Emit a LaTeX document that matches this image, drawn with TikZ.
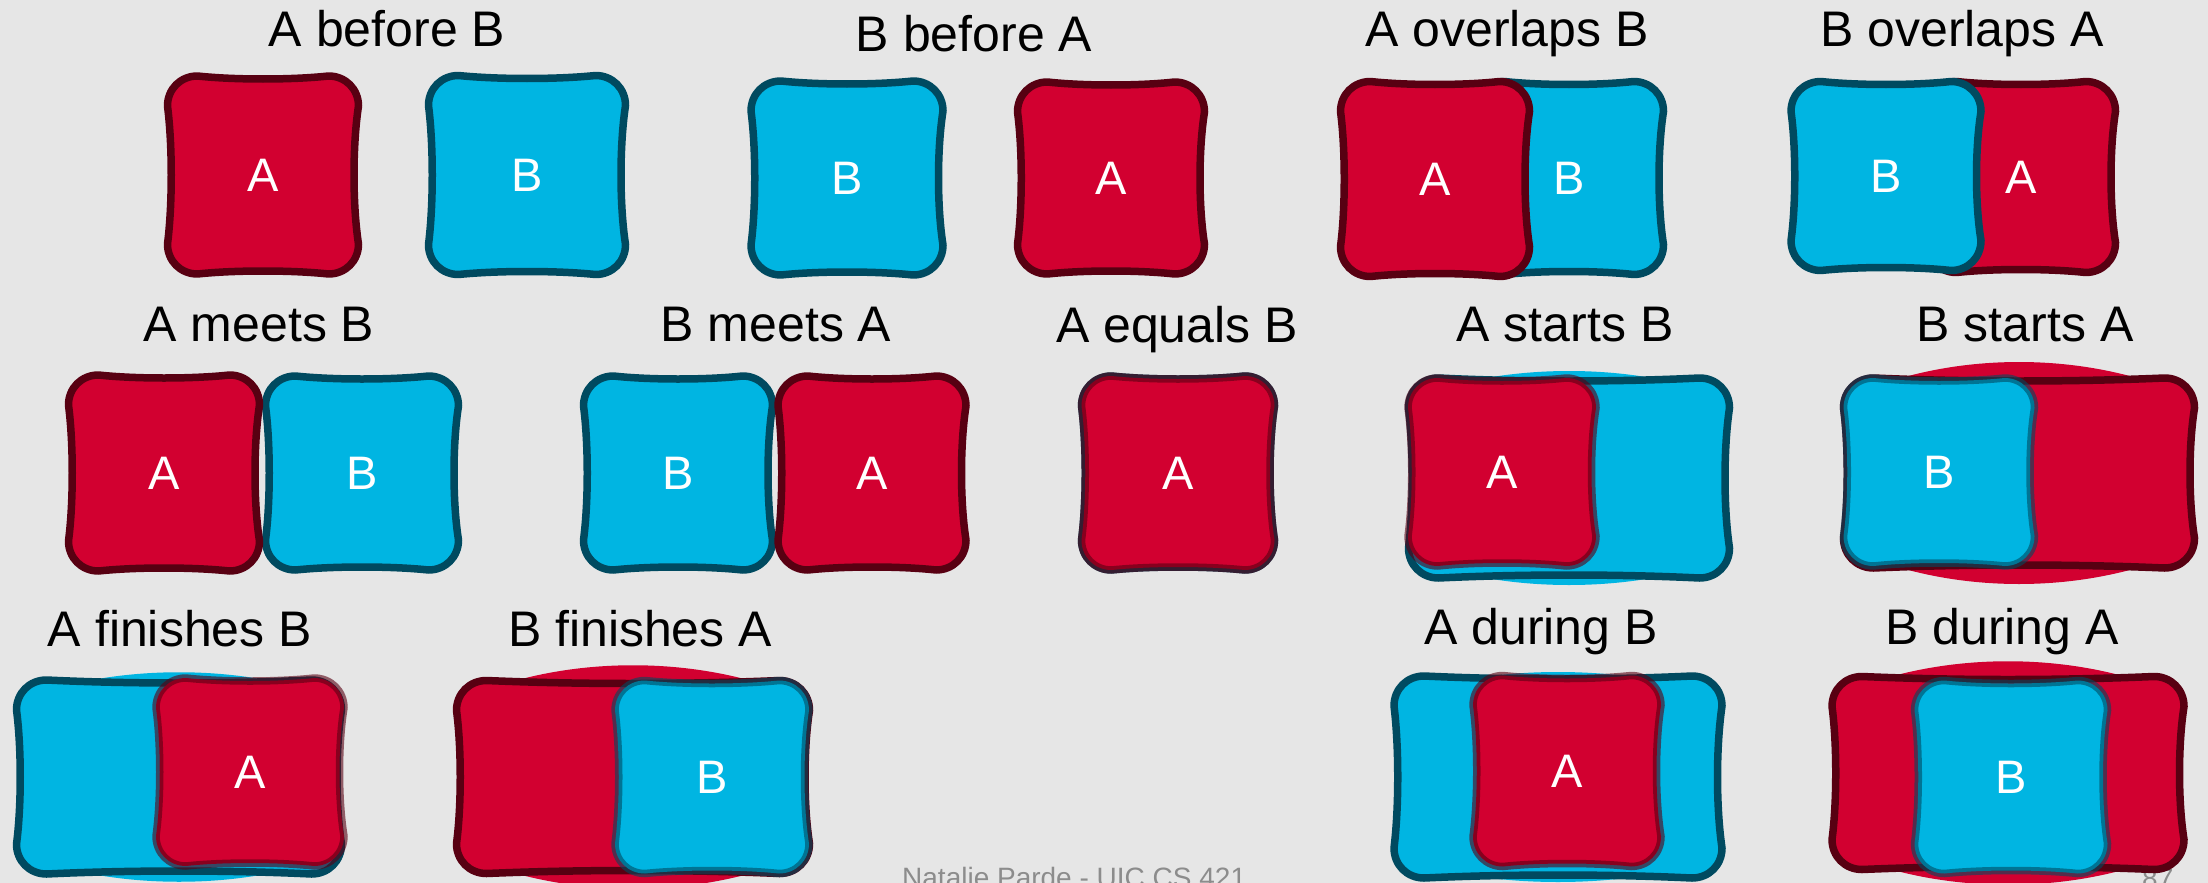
\documentclass[tikz,border=0pt]{standalone}
\usepackage{fontspec}
\setmainfont{Liberation Sans}
\usetikzlibrary{calc}
\definecolor{bgc}{HTML}{E6E6E6}
\definecolor{redf}{HTML}{D20030}
\definecolor{redd}{HTML}{580012}
\definecolor{bluef}{HTML}{00B5E2}
\definecolor{blued}{HTML}{004A60}
\definecolor{footc}{HTML}{8C8C8C}
\pgfdeclarelayer{bg}
\pgfsetlayers{bg,main}
% sketchy rounded box drawn around a named node
\newcommand{\skbox}[2][]{%
  \path[#1] let \p1=(#2.north west), \p2=(#2.south east), \n1={\x2-\x1}, \n2={\y1-\y2} in
   (\x1+30pt,\y1) .. controls (\x1+0.35*\n1,\y1-4pt) and (\x2-0.35*\n1,\y1-4pt) .. (\x2-30pt,\y1)
   .. controls (\x2-13pt,\y1) and (\x2,\y1-13pt) .. (\x2,\y1-30pt)
   .. controls (\x2-6pt,\y1-0.35*\n2) and (\x2-6pt,\y2+0.35*\n2) .. (\x2,\y2+30pt)
   .. controls (\x2,\y2+13pt) and (\x2-13pt,\y2) .. (\x2-30pt,\y2)
   .. controls (\x2-0.35*\n1,\y2+4pt) and (\x1+0.35*\n1,\y2+4pt) .. (\x1+30pt,\y2)
   .. controls (\x1+13pt,\y2) and (\x1,\y2+13pt) .. (\x1,\y2+30pt)
   .. controls (\x1+5pt,\y2+0.35*\n2) and (\x1+5pt,\y1-0.35*\n2) .. (\x1,\y1-30pt)
   .. controls (\x1,\y1-13pt) and (\x1+13pt,\y1) .. (\x1+30pt,\y1) -- cycle;
}
% loose sketch fill bulging above and below a named node
\newcommand{\skbulge}[3][]{%
  \path[#1] let \p1=(#2.north west), \p2=(#2.south east), \n1={\x2-\x1} in
   (\x1+4pt,\y1-20pt) .. controls (\x1+0.3*\n1,\y1+#3) and (\x2-0.3*\n1,\y1+#3) .. (\x2-4pt,\y1-20pt)
   -- (\x2-4pt,\y2+20pt) .. controls (\x2-0.3*\n1,\y2-#3) and (\x1+0.3*\n1,\y2-#3) .. (\x1+4pt,\y2+20pt) -- cycle;
}
\begin{document}
\begin{tikzpicture}[x=1pt,y=-1pt,
  title/.style={anchor=base, font=\fontsize{50}{60}\selectfont, text=black, inner sep=0pt},
  box/.style={inner sep=0pt, outer sep=0pt, text=white, font=\fontsize{47}{50}\selectfont},
  redbox/.style={fill=redf, draw=redd, line width=7.5pt, line join=round},
  bluebox/.style={fill=bluef, draw=blued, line width=7.5pt, line join=round},
  redtop/.style={redbox, draw opacity=0.6},
  bluetop/.style={bluebox, draw opacity=0.6},
  redbulge/.style={fill=redf},
  bluebulge/.style={fill=bluef},
  foot/.style={anchor=base west, font=\fontsize{28}{30}\selectfont, text=footc, inner sep=0pt}]
\useasboundingbox (0,0) rectangle (2208,883);

% titles
\node[title] (t1) at (387,47) {A before B};
\node[title] (t2) at (974,52) {B before A};
\node[title] (t3) at (1507,47) {A overlaps B};
\node[title] (t4) at (1962,47) {B overlaps A};
\node[title] (t5) at (259,341) {A meets B};
\node[title] (t6) at (776,341) {B meets A};
\node[title] (t7) at (1177,342) {A equals B};
\node[title] (t8) at (1565,341) {A starts B};
\node[title] (t9) at (2025,341) {B starts A};
\node[title] (t10) at (180,646) {A finishes B};
\node[title] (t11) at (640,646) {B finishes A};
\node[title] (t12) at (1541,644) {A during B};
\node[title] (t13) at (2002,644) {B during A};

% box placeholders (with labels)
\node[box, minimum width=191pt, minimum height=198pt] (a1) at (263,175) {A};
\node[box, minimum width=197pt, minimum height=199pt] (b1) at (527,175) {B};
\node[box, minimum width=192pt, minimum height=194pt] (b2) at (847,178) {B};
\node[box, minimum width=187pt, minimum height=192pt] (a2) at (1111,178) {A};
\node[box, minimum width=189pt, minimum height=195pt] (a3) at (1435,179) {A};
\node[box, minimum width=189pt, minimum height=193pt] (b3) at (1569,178) {B};
\node[box, minimum width=190pt, minimum height=189pt] (b4) at (1886,176) {B};
\node[box, minimum width=189pt, minimum height=191pt] (a4) at (2021,177) {A};

\node[box, minimum width=191pt, minimum height=196pt] (a5) at (164,473) {A};
\node[box, minimum width=193pt, minimum height=194pt] (b5) at (362,473) {B};
\node[box, minimum width=189pt, minimum height=194pt] (b6) at (678,473) {B};
\node[box, minimum width=188pt, minimum height=194pt] (a6) at (872,473) {A};
\node[box, minimum width=193pt, minimum height=194pt] (b7) at (1178,473) {};
\node[box, minimum width=193pt, minimum height=194pt] (a7) at (1178,473) {A};
\node[box, minimum width=321pt, minimum height=200pt] (b8) at (1569,478) {};
\node[box, minimum width=188pt, minimum height=188pt] (a8) at (1502,472) {A};
\node[box, minimum width=351pt, minimum height=190pt] (a9) at (2019,473) {};
\node[box, minimum width=191pt, minimum height=188pt] (b9) at (1939,472) {B};

\node[box, minimum width=325pt, minimum height=194pt] (b10) at (179,777) {};
\node[box, minimum width=188pt, minimum height=188pt] (a10) at (250,772) {A};
\node[box, minimum width=353pt, minimum height=193pt] (a11) at (633,777) {};
\node[box, minimum width=194pt, minimum height=193pt] (b11) at (712,777) {B};
\node[box, minimum width=328pt, minimum height=202pt] (b12) at (1558,777) {};
\node[box, minimum width=188pt, minimum height=191pt] (a12) at (1567,771) {A};
\node[box, minimum width=352pt, minimum height=193pt] (a13) at (2008,773) {};
\node[box, minimum width=193pt, minimum height=193pt] (b13) at (2011,777) {B};

\begin{pgfonlayer}{bg}
  \fill[bgc] (0,0) rectangle (2208,883);
  \node[foot] (ft) at (902,887) {Natalie Parde - UIC CS 421};
  \node[foot] (pg) at (2142,888) {87};
  % row 1
  \skbox[redbox]{a1}
  \skbox[bluebox]{b1}
  \skbox[bluebox]{b2}
  \skbox[redbox]{a2}
  \skbox[bluebox]{b3}
  \skbox[redbox]{a3}
  \skbox[redbox]{a4}
  \skbox[bluebox]{b4}
  % row 2
  \skbox[bluebox]{b5}
  \skbox[redbox]{a5}
  \skbox[bluebox]{b6}
  \skbox[redbox]{a6}
  \skbox[bluebox]{b7}
  \skbox[redtop]{a7}
  \skbulge[bluebulge]{b8}{16pt}
  \skbox[bluebox]{b8}
  \skbox[redtop]{a8}
  \skbulge[redbulge]{a9}{28pt}
  \skbox[redbox]{a9}
  \skbox[bluetop]{b9}
  % row 3
  \skbulge[bluebulge]{b10}{17pt}
  \skbox[bluebox]{b10}
  \skbox[redtop]{a10}
  \skbulge[redbulge]{a11}{27pt}
  \skbox[redbox]{a11}
  \skbox[bluetop]{b11}
  \skbulge[bluebulge]{b12}{12pt}
  \skbox[bluebox]{b12}
  \skbox[redtop]{a12}
  \skbulge[redbulge]{a13}{27pt}
  \skbox[redbox]{a13}
  \skbox[bluetop]{b13}
\end{pgfonlayer}
\end{tikzpicture}
\end{document}
